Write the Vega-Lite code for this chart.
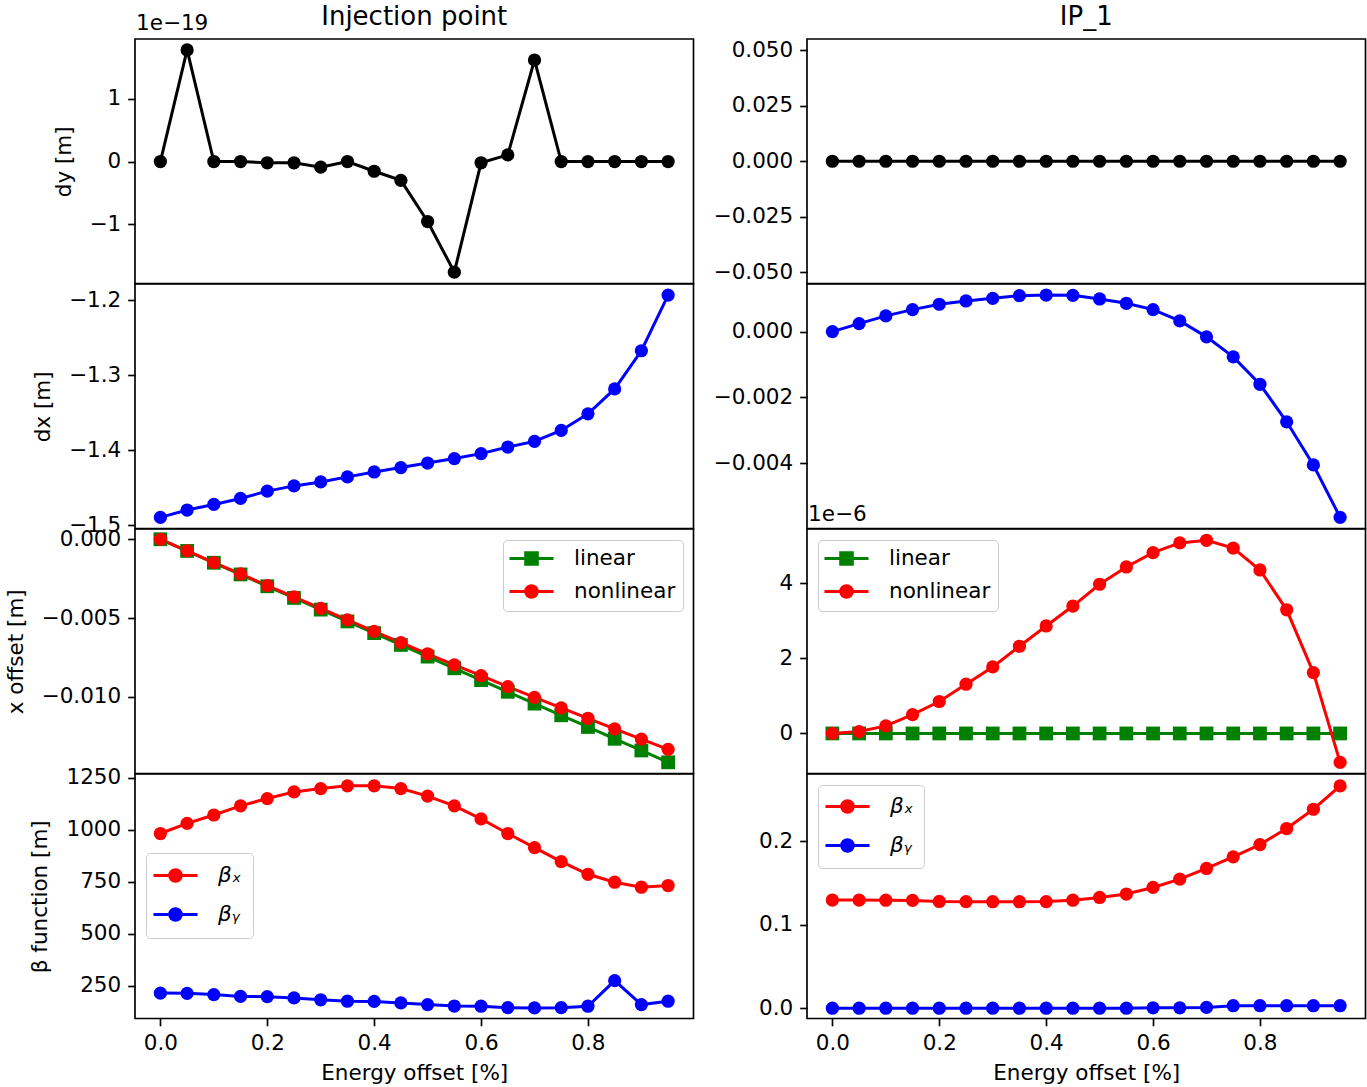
{
  "$schema": "https://vega.github.io/schema/vega-lite/v6.json",
  "background": "white",
  "padding": {"left": 4, "top": 3, "right": 2, "bottom": 0},
  "datasets": {
    "dy_inj": [
      {"e": 0.0, "dy": 0}, {"e": 0.05, "dy": 1.78}, {"e": 0.1, "dy": 0}, {"e": 0.15, "dy": 0},
      {"e": 0.2, "dy": -0.02}, {"e": 0.25, "dy": -0.02}, {"e": 0.3, "dy": -0.09}, {"e": 0.35, "dy": 0.0},
      {"e": 0.4, "dy": -0.155}, {"e": 0.45, "dy": -0.30}, {"e": 0.5, "dy": -0.957}, {"e": 0.55, "dy": -1.765},
      {"e": 0.6, "dy": -0.02}, {"e": 0.65, "dy": 0.106}, {"e": 0.7, "dy": 1.62}, {"e": 0.75, "dy": 0},
      {"e": 0.8, "dy": 0}, {"e": 0.85, "dy": 0}, {"e": 0.9, "dy": 0}, {"e": 0.95, "dy": 0}
    ],
    "dy_ip": [
      {"e": 0.0, "dy": 0}, {"e": 0.05, "dy": 0}, {"e": 0.1, "dy": 0}, {"e": 0.15, "dy": 0},
      {"e": 0.2, "dy": 0}, {"e": 0.25, "dy": 0}, {"e": 0.3, "dy": 0}, {"e": 0.35, "dy": 0},
      {"e": 0.4, "dy": 0}, {"e": 0.45, "dy": 0}, {"e": 0.5, "dy": 0}, {"e": 0.55, "dy": 0},
      {"e": 0.6, "dy": 0}, {"e": 0.65, "dy": 0}, {"e": 0.7, "dy": 0}, {"e": 0.75, "dy": 0},
      {"e": 0.8, "dy": 0}, {"e": 0.85, "dy": 0}, {"e": 0.9, "dy": 0}, {"e": 0.95, "dy": 0}
    ],
    "dx_inj": [
      {"e": 0.0, "dx": -1.4898}, {"e": 0.05, "dx": -1.48}, {"e": 0.1, "dx": -1.4725}, {"e": 0.15, "dx": -1.4645},
      {"e": 0.2, "dx": -1.4548}, {"e": 0.25, "dx": -1.4478}, {"e": 0.3, "dx": -1.4425}, {"e": 0.35, "dx": -1.4358},
      {"e": 0.4, "dx": -1.4292}, {"e": 0.45, "dx": -1.4234}, {"e": 0.5, "dx": -1.4173}, {"e": 0.55, "dx": -1.4114},
      {"e": 0.6, "dx": -1.4048}, {"e": 0.65, "dx": -1.396}, {"e": 0.7, "dx": -1.3884}, {"e": 0.75, "dx": -1.3738},
      {"e": 0.8, "dx": -1.3517}, {"e": 0.85, "dx": -1.3185}, {"e": 0.9, "dx": -1.2676}, {"e": 0.95, "dx": -1.1934}
    ],
    "dx_ip": [
      {"e": 0.0, "dx": 0.0}, {"e": 0.05, "dx": 0.000242}, {"e": 0.1, "dx": 0.000476}, {"e": 0.15, "dx": 0.000667},
      {"e": 0.2, "dx": 0.00083}, {"e": 0.25, "dx": 0.00093}, {"e": 0.3, "dx": 0.00101}, {"e": 0.35, "dx": 0.00109},
      {"e": 0.4, "dx": 0.00111}, {"e": 0.45, "dx": 0.0011}, {"e": 0.5, "dx": 0.00099}, {"e": 0.55, "dx": 0.00086},
      {"e": 0.6, "dx": 0.000667}, {"e": 0.65, "dx": 0.000324}, {"e": 0.7, "dx": -0.00016}, {"e": 0.75, "dx": -0.000767},
      {"e": 0.8, "dx": -0.0016}, {"e": 0.85, "dx": -0.00274}, {"e": 0.9, "dx": -0.00405}, {"e": 0.95, "dx": -0.00564}
    ],
    "xoff_inj": [
      {"e": 0.0, "series": "linear", "xoff": 0}, {"e": 0.05, "series": "linear", "xoff": -0.00074},
      {"e": 0.1, "series": "linear", "xoff": -0.00149}, {"e": 0.15, "series": "linear", "xoff": -0.00223},
      {"e": 0.2, "series": "linear", "xoff": -0.00298}, {"e": 0.25, "series": "linear", "xoff": -0.00372},
      {"e": 0.3, "series": "linear", "xoff": -0.00446}, {"e": 0.35, "series": "linear", "xoff": -0.00521},
      {"e": 0.4, "series": "linear", "xoff": -0.00595}, {"e": 0.45, "series": "linear", "xoff": -0.0067},
      {"e": 0.5, "series": "linear", "xoff": -0.00744}, {"e": 0.55, "series": "linear", "xoff": -0.00818},
      {"e": 0.6, "series": "linear", "xoff": -0.00893}, {"e": 0.65, "series": "linear", "xoff": -0.00967},
      {"e": 0.7, "series": "linear", "xoff": -0.01042}, {"e": 0.75, "series": "linear", "xoff": -0.01116},
      {"e": 0.8, "series": "linear", "xoff": -0.0119}, {"e": 0.85, "series": "linear", "xoff": -0.01265},
      {"e": 0.9, "series": "linear", "xoff": -0.01339}, {"e": 0.95, "series": "linear", "xoff": -0.01414},
      {"e": 0.0, "series": "nonlinear", "xoff": 0}, {"e": 0.05, "series": "nonlinear", "xoff": -0.00074},
      {"e": 0.1, "series": "nonlinear", "xoff": -0.00148}, {"e": 0.15, "series": "nonlinear", "xoff": -0.0022},
      {"e": 0.2, "series": "nonlinear", "xoff": -0.00294}, {"e": 0.25, "series": "nonlinear", "xoff": -0.00366},
      {"e": 0.3, "series": "nonlinear", "xoff": -0.00438}, {"e": 0.35, "series": "nonlinear", "xoff": -0.00511},
      {"e": 0.4, "series": "nonlinear", "xoff": -0.00584}, {"e": 0.45, "series": "nonlinear", "xoff": -0.00655},
      {"e": 0.5, "series": "nonlinear", "xoff": -0.00726}, {"e": 0.55, "series": "nonlinear", "xoff": -0.00796},
      {"e": 0.6, "series": "nonlinear", "xoff": -0.00865}, {"e": 0.65, "series": "nonlinear", "xoff": -0.00934},
      {"e": 0.7, "series": "nonlinear", "xoff": -0.01002}, {"e": 0.75, "series": "nonlinear", "xoff": -0.01069},
      {"e": 0.8, "series": "nonlinear", "xoff": -0.01135}, {"e": 0.85, "series": "nonlinear", "xoff": -0.01202},
      {"e": 0.9, "series": "nonlinear", "xoff": -0.01267}, {"e": 0.95, "series": "nonlinear", "xoff": -0.01332}
    ],
    "xoff_ip": [
      {"e": 0.0, "series": "linear", "xoff": 0}, {"e": 0.05, "series": "linear", "xoff": 0},
      {"e": 0.1, "series": "linear", "xoff": 0}, {"e": 0.15, "series": "linear", "xoff": 0},
      {"e": 0.2, "series": "linear", "xoff": 0}, {"e": 0.25, "series": "linear", "xoff": 0},
      {"e": 0.3, "series": "linear", "xoff": 0}, {"e": 0.35, "series": "linear", "xoff": 0},
      {"e": 0.4, "series": "linear", "xoff": 0}, {"e": 0.45, "series": "linear", "xoff": 0},
      {"e": 0.5, "series": "linear", "xoff": 0}, {"e": 0.55, "series": "linear", "xoff": 0},
      {"e": 0.6, "series": "linear", "xoff": 0}, {"e": 0.65, "series": "linear", "xoff": 0},
      {"e": 0.7, "series": "linear", "xoff": 0}, {"e": 0.75, "series": "linear", "xoff": 0},
      {"e": 0.8, "series": "linear", "xoff": 0}, {"e": 0.85, "series": "linear", "xoff": 0},
      {"e": 0.9, "series": "linear", "xoff": 0}, {"e": 0.95, "series": "linear", "xoff": 0},
      {"e": 0.0, "series": "nonlinear", "xoff": 0}, {"e": 0.05, "series": "nonlinear", "xoff": 0.05},
      {"e": 0.1, "series": "nonlinear", "xoff": 0.2}, {"e": 0.15, "series": "nonlinear", "xoff": 0.5},
      {"e": 0.2, "series": "nonlinear", "xoff": 0.85}, {"e": 0.25, "series": "nonlinear", "xoff": 1.31},
      {"e": 0.3, "series": "nonlinear", "xoff": 1.77}, {"e": 0.35, "series": "nonlinear", "xoff": 2.32},
      {"e": 0.4, "series": "nonlinear", "xoff": 2.86}, {"e": 0.45, "series": "nonlinear", "xoff": 3.39},
      {"e": 0.5, "series": "nonlinear", "xoff": 3.97}, {"e": 0.55, "series": "nonlinear", "xoff": 4.43},
      {"e": 0.6, "series": "nonlinear", "xoff": 4.81}, {"e": 0.65, "series": "nonlinear", "xoff": 5.07},
      {"e": 0.7, "series": "nonlinear", "xoff": 5.14}, {"e": 0.75, "series": "nonlinear", "xoff": 4.93},
      {"e": 0.8, "series": "nonlinear", "xoff": 4.35}, {"e": 0.85, "series": "nonlinear", "xoff": 3.29},
      {"e": 0.9, "series": "nonlinear", "xoff": 1.62}, {"e": 0.95, "series": "nonlinear", "xoff": -0.77}
    ],
    "beta_inj": [
      {"e": 0.0, "series": "βₓ", "beta": 981}, {"e": 0.05, "series": "βₓ", "beta": 1030},
      {"e": 0.1, "series": "βₓ", "beta": 1070}, {"e": 0.15, "series": "βₓ", "beta": 1114},
      {"e": 0.2, "series": "βₓ", "beta": 1149}, {"e": 0.25, "series": "βₓ", "beta": 1181},
      {"e": 0.3, "series": "βₓ", "beta": 1197}, {"e": 0.35, "series": "βₓ", "beta": 1210},
      {"e": 0.4, "series": "βₓ", "beta": 1210}, {"e": 0.45, "series": "βₓ", "beta": 1197},
      {"e": 0.5, "series": "βₓ", "beta": 1161}, {"e": 0.55, "series": "βₓ", "beta": 1114},
      {"e": 0.6, "series": "βₓ", "beta": 1051}, {"e": 0.65, "series": "βₓ", "beta": 981},
      {"e": 0.7, "series": "βₓ", "beta": 913}, {"e": 0.75, "series": "βₓ", "beta": 846},
      {"e": 0.8, "series": "βₓ", "beta": 785}, {"e": 0.85, "series": "βₓ", "beta": 747},
      {"e": 0.9, "series": "βₓ", "beta": 723}, {"e": 0.95, "series": "βₓ", "beta": 731},
      {"e": 0.0, "series": "βᵧ", "beta": 214}, {"e": 0.05, "series": "βᵧ", "beta": 213},
      {"e": 0.1, "series": "βᵧ", "beta": 207}, {"e": 0.15, "series": "βᵧ", "beta": 198},
      {"e": 0.2, "series": "βᵧ", "beta": 197}, {"e": 0.25, "series": "βᵧ", "beta": 191},
      {"e": 0.3, "series": "βᵧ", "beta": 182}, {"e": 0.35, "series": "βᵧ", "beta": 175},
      {"e": 0.4, "series": "βᵧ", "beta": 174}, {"e": 0.45, "series": "βᵧ", "beta": 167},
      {"e": 0.5, "series": "βᵧ", "beta": 159}, {"e": 0.55, "series": "βᵧ", "beta": 152},
      {"e": 0.6, "series": "βᵧ", "beta": 151}, {"e": 0.65, "series": "βᵧ", "beta": 144},
      {"e": 0.7, "series": "βᵧ", "beta": 143}, {"e": 0.75, "series": "βᵧ", "beta": 144},
      {"e": 0.8, "series": "βᵧ", "beta": 151}, {"e": 0.85, "series": "βᵧ", "beta": 274},
      {"e": 0.9, "series": "βᵧ", "beta": 159}, {"e": 0.95, "series": "βᵧ", "beta": 175}
    ],
    "beta_ip": [
      {"e": 0.0, "series": "βₓ", "beta": 0.1295}, {"e": 0.05, "series": "βₓ", "beta": 0.1295},
      {"e": 0.1, "series": "βₓ", "beta": 0.1293}, {"e": 0.15, "series": "βₓ", "beta": 0.1291},
      {"e": 0.2, "series": "βₓ", "beta": 0.1278}, {"e": 0.25, "series": "βₓ", "beta": 0.1276},
      {"e": 0.3, "series": "βₓ", "beta": 0.1275}, {"e": 0.35, "series": "βₓ", "beta": 0.1275},
      {"e": 0.4, "series": "βₓ", "beta": 0.1277}, {"e": 0.45, "series": "βₓ", "beta": 0.1293},
      {"e": 0.5, "series": "βₓ", "beta": 0.1326}, {"e": 0.55, "series": "βₓ", "beta": 0.1367},
      {"e": 0.6, "series": "βₓ", "beta": 0.1446}, {"e": 0.65, "series": "βₓ", "beta": 0.1546},
      {"e": 0.7, "series": "βₓ", "beta": 0.1673}, {"e": 0.75, "series": "βₓ", "beta": 0.1812},
      {"e": 0.8, "series": "βₓ", "beta": 0.1959}, {"e": 0.85, "series": "βₓ", "beta": 0.2151},
      {"e": 0.9, "series": "βₓ", "beta": 0.2382}, {"e": 0.95, "series": "βₓ", "beta": 0.2661},
      {"e": 0.0, "series": "βᵧ", "beta": 0.0}, {"e": 0.05, "series": "βᵧ", "beta": 0.0},
      {"e": 0.1, "series": "βᵧ", "beta": 0.0}, {"e": 0.15, "series": "βᵧ", "beta": 0.0},
      {"e": 0.2, "series": "βᵧ", "beta": 0.0}, {"e": 0.25, "series": "βᵧ", "beta": 0.0},
      {"e": 0.3, "series": "βᵧ", "beta": 0.0}, {"e": 0.35, "series": "βᵧ", "beta": 0.0},
      {"e": 0.4, "series": "βᵧ", "beta": 0.0}, {"e": 0.45, "series": "βᵧ", "beta": 0.0},
      {"e": 0.5, "series": "βᵧ", "beta": 0.0}, {"e": 0.55, "series": "βᵧ", "beta": 0.0},
      {"e": 0.6, "series": "βᵧ", "beta": 0.0005}, {"e": 0.65, "series": "βᵧ", "beta": 0.0005},
      {"e": 0.7, "series": "βᵧ", "beta": 0.001}, {"e": 0.75, "series": "βᵧ", "beta": 0.003},
      {"e": 0.8, "series": "βᵧ", "beta": 0.003}, {"e": 0.85, "series": "βᵧ", "beta": 0.003},
      {"e": 0.9, "series": "βᵧ", "beta": 0.003}, {"e": 0.95, "series": "βᵧ", "beta": 0.003}
    ]
  },
  "columns": 2,
  "spacing": {"row": 0, "column": 113},
  "bounds": "flush",
  "resolve": {
    "scale": {"x": "independent", "y": "independent", "color": "independent", "shape": "independent"},
    "legend": {"color": "independent", "shape": "independent"}
  },
  "concat": [
    {
      "width": 558.5, "height": 244.5,
      "title": {"text": "Injection point", "anchor": "middle", "frame": "group", "offset": -17},
      "layer": [
        {
          "data": {"name": "dy_inj"},
          "mark": {"type": "line", "color": "black", "strokeWidth": 3},
          "encoding": {
            "x": {"field": "e", "type": "quantitative", "scale": {"domain": [-0.0475, 0.9975], "nice": false, "zero": false}, "axis": null},
            "y": {"field": "dy", "type": "quantitative", "scale": {"domain": [-1.946, 1.955], "nice": false, "zero": false}, "axis": {"values": [-1, 0, 1], "format": ".0f", "title": "dy [m]"}}
          }
        },
        {
          "data": {"name": "dy_inj"},
          "mark": {"type": "point", "filled": true, "shape": "circle", "size": 175, "color": "black", "opacity": 1},
          "encoding": {
            "x": {"field": "e", "type": "quantitative"},
            "y": {"field": "dy", "type": "quantitative"}
          }
        },
        {
          "data": {"values": [{"label": "1e−19"}]},
          "mark": {"type": "text", "align": "left", "baseline": "alphabetic", "dy": -9, "dx": 1, "fontSize": 21.5, "color": "black"},
          "encoding": {
            "x": {"datum": -0.0475, "type": "quantitative"},
            "y": {"datum": 1.955, "type": "quantitative"},
            "text": {"field": "label"}
          }
        }
      ]
    },
    {
      "width": 558.5, "height": 244.5,
      "title": {"text": "IP_1", "anchor": "middle", "frame": "group", "offset": 9},
      "data": {"name": "dy_ip"},
      "layer": [
        {
          "mark": {"type": "line", "color": "black", "strokeWidth": 3},
          "encoding": {
            "x": {"field": "e", "type": "quantitative", "scale": {"domain": [-0.0475, 0.9975], "nice": false, "zero": false}, "axis": null},
            "y": {"field": "dy", "type": "quantitative", "scale": {"domain": [-0.055, 0.055], "nice": false, "zero": false}, "axis": {"values": [-0.05, -0.025, 0, 0.025, 0.05], "format": ".3f", "title": null}}
          }
        },
        {
          "mark": {"type": "point", "filled": true, "shape": "circle", "size": 175, "color": "black", "opacity": 1},
          "encoding": {
            "x": {"field": "e", "type": "quantitative"},
            "y": {"field": "dy", "type": "quantitative"}
          }
        }
      ]
    },
    {
      "width": 558.5, "height": 244.5,
      "data": {"name": "dx_inj"},
      "layer": [
        {
          "mark": {"type": "line", "color": "blue", "strokeWidth": 3},
          "encoding": {
            "x": {"field": "e", "type": "quantitative", "scale": {"domain": [-0.0475, 0.9975], "nice": false, "zero": false}, "axis": null},
            "y": {"field": "dx", "type": "quantitative", "scale": {"domain": [-1.5046, -1.1786], "nice": false, "zero": false}, "axis": {"values": [-1.5, -1.4, -1.3, -1.2], "format": ".1f", "title": "dx [m]"}}
          }
        },
        {
          "mark": {"type": "point", "filled": true, "shape": "circle", "size": 175, "color": "blue", "opacity": 1},
          "encoding": {
            "x": {"field": "e", "type": "quantitative"},
            "y": {"field": "dx", "type": "quantitative"}
          }
        }
      ]
    },
    {
      "width": 558.5, "height": 244.5,
      "data": {"name": "dx_ip"},
      "layer": [
        {
          "mark": {"type": "line", "color": "blue", "strokeWidth": 3},
          "encoding": {
            "x": {"field": "e", "type": "quantitative", "scale": {"domain": [-0.0475, 0.9975], "nice": false, "zero": false}, "axis": null},
            "y": {"field": "dx", "type": "quantitative", "scale": {"domain": [-0.00598, 0.001445], "nice": false, "zero": false}, "axis": {"values": [-0.006, -0.004, -0.002, 0], "format": ".3f", "title": null}}
          }
        },
        {
          "mark": {"type": "point", "filled": true, "shape": "circle", "size": 175, "color": "blue", "opacity": 1},
          "encoding": {
            "x": {"field": "e", "type": "quantitative"},
            "y": {"field": "dx", "type": "quantitative"}
          }
        }
      ]
    },
    {
      "width": 558.5, "height": 244.5,
      "data": {"name": "xoff_inj"},
      "layer": [
        {
          "mark": {"type": "line", "strokeWidth": 3},
          "encoding": {
            "x": {"field": "e", "type": "quantitative", "scale": {"domain": [-0.0475, 0.9975], "nice": false, "zero": false}, "axis": null},
            "y": {"field": "xoff", "type": "quantitative", "scale": {"domain": [-0.01485, 0.00065], "nice": false, "zero": false}, "axis": {"values": [-0.01, -0.005, 0], "format": ".3f", "title": "x offset [m]"}},
            "color": {"field": "series", "type": "nominal", "scale": {"domain": ["linear", "nonlinear"], "range": ["green", "red"]},
              "legend": {"orient": "top-right", "offset": 11, "rowPadding": 8, "padding": 7, "labelOffset": 31}}
          }
        },
        {
          "transform": [{"filter": "datum.series === 'linear'"}],
          "mark": {"type": "point", "filled": true, "shape": "square", "size": 190, "opacity": 1},
          "encoding": {
            "x": {"field": "e", "type": "quantitative"},
            "y": {"field": "xoff", "type": "quantitative"},
            "color": {"field": "series", "type": "nominal", "legend": {"orient": "top-right", "offset": 11, "rowPadding": 8, "padding": 7, "labelOffset": 31}}
          }
        },
        {
          "transform": [{"filter": "datum.series === 'nonlinear'"}],
          "mark": {"type": "point", "filled": true, "shape": "circle", "size": 175, "opacity": 1},
          "encoding": {
            "x": {"field": "e", "type": "quantitative"},
            "y": {"field": "xoff", "type": "quantitative"},
            "color": {"field": "series", "type": "nominal", "legend": {"orient": "top-right", "offset": 11, "rowPadding": 8, "padding": 7, "labelOffset": 31}}
          }
        },
        {
          "transform": [{"filter": "false"}],
          "mark": {"type": "point", "filled": true},
          "encoding": {
            "x": {"field": "e", "type": "quantitative"},
            "y": {"field": "xoff", "type": "quantitative"},
            "color": {"field": "series", "type": "nominal", "legend": {"orient": "top-right", "offset": 11, "rowPadding": 8, "padding": 7, "labelOffset": 31}},
            "shape": {"field": "series", "type": "nominal",
              "scale": {"domain": ["linear", "nonlinear"], "range": ["M-2.2,0H2.2M-0.58,-0.58H0.58V0.58H-0.58Z", "M-2.2,0H2.2M0.58,0A0.58,0.58,0,1,1,-0.58,0A0.58,0.58,0,1,1,0.58,0Z"]},
              "legend": {"orient": "top-right", "offset": 11, "rowPadding": 8, "padding": 7, "labelOffset": 31}}
          }
        }
      ]
    },
    {
      "width": 558.5, "height": 244.5,
      "layer": [
        {
          "data": {"name": "xoff_ip"},
          "mark": {"type": "line", "strokeWidth": 3},
          "encoding": {
            "x": {"field": "e", "type": "quantitative", "scale": {"domain": [-0.0475, 0.9975], "nice": false, "zero": false}, "axis": null},
            "y": {"field": "xoff", "type": "quantitative", "scale": {"domain": [-1.066, 5.44], "nice": false, "zero": false}, "axis": {"values": [0, 2, 4], "format": ".0f", "title": null}},
            "color": {"field": "series", "type": "nominal", "scale": {"domain": ["linear", "nonlinear"], "range": ["green", "red"]},
              "legend": {"orient": "top-left", "offset": 11, "rowPadding": 8, "padding": 7, "labelOffset": 31}}
          }
        },
        {
          "data": {"name": "xoff_ip"},
          "transform": [{"filter": "datum.series === 'linear'"}],
          "mark": {"type": "point", "filled": true, "shape": "square", "size": 190, "opacity": 1},
          "encoding": {
            "x": {"field": "e", "type": "quantitative"},
            "y": {"field": "xoff", "type": "quantitative"},
            "color": {"field": "series", "type": "nominal", "legend": {"orient": "top-left", "offset": 11, "rowPadding": 8, "padding": 7, "labelOffset": 31}}
          }
        },
        {
          "data": {"name": "xoff_ip"},
          "transform": [{"filter": "datum.series === 'nonlinear'"}],
          "mark": {"type": "point", "filled": true, "shape": "circle", "size": 175, "opacity": 1},
          "encoding": {
            "x": {"field": "e", "type": "quantitative"},
            "y": {"field": "xoff", "type": "quantitative"},
            "color": {"field": "series", "type": "nominal", "legend": {"orient": "top-left", "offset": 11, "rowPadding": 8, "padding": 7, "labelOffset": 31}}
          }
        },
        {
          "data": {"name": "xoff_ip"},
          "transform": [{"filter": "false"}],
          "mark": {"type": "point", "filled": true},
          "encoding": {
            "x": {"field": "e", "type": "quantitative"},
            "y": {"field": "xoff", "type": "quantitative"},
            "color": {"field": "series", "type": "nominal", "legend": {"orient": "top-left", "offset": 11, "rowPadding": 8, "padding": 7, "labelOffset": 31}},
            "shape": {"field": "series", "type": "nominal",
              "scale": {"domain": ["linear", "nonlinear"], "range": ["M-2.2,0H2.2M-0.58,-0.58H0.58V0.58H-0.58Z", "M-2.2,0H2.2M0.58,0A0.58,0.58,0,1,1,-0.58,0A0.58,0.58,0,1,1,0.58,0Z"]},
              "legend": {"orient": "top-left", "offset": 11, "rowPadding": 8, "padding": 7, "labelOffset": 31}}
          }
        },
        {
          "data": {"values": [{"label": "1e−6"}]},
          "mark": {"type": "text", "align": "left", "baseline": "alphabetic", "dy": -8, "dx": 1, "fontSize": 21.5, "color": "black"},
          "encoding": {
            "x": {"datum": -0.0475, "type": "quantitative"},
            "y": {"datum": 5.44, "type": "quantitative"},
            "text": {"field": "label"}
          }
        }
      ]
    },
    {
      "width": 558.5, "height": 244.5,
      "data": {"name": "beta_inj"},
      "layer": [
        {
          "mark": {"type": "line", "strokeWidth": 3},
          "encoding": {
            "x": {"field": "e", "type": "quantitative", "scale": {"domain": [-0.0475, 0.9975], "nice": false, "zero": false}, "axis": {"values": [0, 0.2, 0.4, 0.6, 0.8], "format": ".1f", "title": "Energy offset [%]", "labelFlush": false}},
            "y": {"field": "beta", "type": "quantitative", "scale": {"domain": [92, 1267], "nice": false, "zero": false}, "axis": {"values": [250, 500, 750, 1000, 1250], "format": ".0f", "title": "β function [m]"}},
            "color": {"field": "series", "type": "nominal", "scale": {"domain": ["βₓ", "βᵧ"], "range": ["red", "blue"]},
              "legend": {"orient": "none", "legendX": 11, "legendY": 79, "labelFontStyle": "italic", "rowPadding": 14, "padding": 11, "symbolOffset": 7, "labelOffset": 31,
                "symbolType": "M-2.2,0H2.2M0.58,0A0.58,0.58,0,1,1,-0.58,0A0.58,0.58,0,1,1,0.58,0Z"}}
          }
        },
        {
          "mark": {"type": "point", "filled": true, "size": 175, "opacity": 1},
          "encoding": {
            "x": {"field": "e", "type": "quantitative"},
            "y": {"field": "beta", "type": "quantitative"},
            "color": {"field": "series", "type": "nominal",
              "legend": {"orient": "none", "legendX": 11, "legendY": 79, "labelFontStyle": "italic", "rowPadding": 14, "padding": 11, "symbolOffset": 7, "labelOffset": 31,
                "symbolType": "M-2.2,0H2.2M0.58,0A0.58,0.58,0,1,1,-0.58,0A0.58,0.58,0,1,1,0.58,0Z"}}
          }
        }
      ]
    },
    {
      "width": 558.5, "height": 244.5,
      "data": {"name": "beta_ip"},
      "layer": [
        {
          "mark": {"type": "line", "strokeWidth": 3},
          "encoding": {
            "x": {"field": "e", "type": "quantitative", "scale": {"domain": [-0.0475, 0.9975], "nice": false, "zero": false}, "axis": {"values": [0, 0.2, 0.4, 0.6, 0.8], "format": ".1f", "title": "Energy offset [%]", "labelFlush": false}},
            "y": {"field": "beta", "type": "quantitative", "scale": {"domain": [-0.0123, 0.2804], "nice": false, "zero": false}, "axis": {"values": [0, 0.1, 0.2], "format": ".1f", "title": null}},
            "color": {"field": "series", "type": "nominal", "scale": {"domain": ["βₓ", "βᵧ"], "range": ["red", "blue"]},
              "legend": {"orient": "top-left", "offset": 11, "labelFontStyle": "italic", "rowPadding": 14, "padding": 10, "symbolOffset": 8, "labelOffset": 31,
                "symbolType": "M-2.2,0H2.2M0.58,0A0.58,0.58,0,1,1,-0.58,0A0.58,0.58,0,1,1,0.58,0Z"}}
          }
        },
        {
          "mark": {"type": "point", "filled": true, "size": 175, "opacity": 1},
          "encoding": {
            "x": {"field": "e", "type": "quantitative"},
            "y": {"field": "beta", "type": "quantitative"},
            "color": {"field": "series", "type": "nominal",
              "legend": {"orient": "top-left", "offset": 11, "labelFontStyle": "italic", "rowPadding": 14, "padding": 10, "symbolOffset": 8, "labelOffset": 31,
                "symbolType": "M-2.2,0H2.2M0.58,0A0.58,0.58,0,1,1,-0.58,0A0.58,0.58,0,1,1,0.58,0Z"}}
          }
        }
      ]
    }
  ],
  "config": {
    "font": "DejaVu Sans",
    "view": {"stroke": "black", "strokeWidth": 1.67},
    "axis": {
      "grid": false, "domain": false,
      "labelFont": "DejaVu Sans", "labelFontSize": 21.5, "labelColor": "black",
      "titleFont": "DejaVu Sans", "titleFontSize": 21.5, "titleFontWeight": "normal", "titleColor": "black",
      "tickColor": "black", "tickSize": 7.3, "tickWidth": 1.67, "labelPadding": 7,
      "labelOverlap": false
    },
    "axisX": {"titlePadding": 8},
    "axisY": {"titlePadding": 14},
    "title": {"font": "DejaVu Sans", "fontSize": 26, "fontWeight": "normal", "color": "black"},
    "legend": {
      "title": null,
      "labelFont": "DejaVu Sans", "labelFontSize": 21.5, "labelColor": "black",
      "padding": 8, "labelOffset": 30, "symbolOffset": 10,
      "symbolSize": 400, "symbolStrokeWidth": 3, "symbolOpacity": 1,
      "fillColor": "rgba(255,255,255,0.8)", "strokeColor": "#cccccc", "cornerRadius": 4
    }
  }
}
